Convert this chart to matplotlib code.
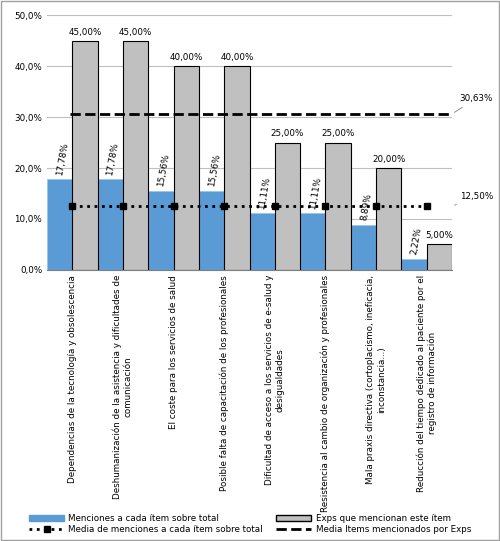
import matplotlib
matplotlib.use("Agg")
import matplotlib.pyplot as plt
import numpy as np
from matplotlib.patches import Rectangle
from matplotlib.lines import Line2D

categories = [
    "Dependencias de la tecnología y obsolescencia",
    "Deshumanización de la asistencia y dificultades de\ncomunicación",
    "El coste para los servicios de salud",
    "Posible falta de capacitación de los profesionales",
    "Dificultad de acceso a los servicios de e-salud y\ndesigualdades",
    "Resistencia al cambio de organización y profesionales",
    "Mala praxis directiva (cortoplacismo, ineficacia,\ninconstancia...)",
    "Reducción del tiempo dedicado al paciente por el\nregistro de información",
]
menciones = [17.78, 17.78, 15.56, 15.56, 11.11, 11.11, 8.89, 2.22]
exps = [45.0, 45.0, 40.0, 40.0, 25.0, 25.0, 20.0, 5.0]
media_menciones = 12.50
media_exps = 30.63

def fmt(v, d=2):
    return f"{v:.{d}f}".replace(".", ",") + "%"

plt.rcParams['font.family'] = ['DejaVu Sans']
fs = 6.3
fig = plt.figure(figsize=(5, 5.41), dpi=100)
ax = fig.add_axes([0.094, 0.501, 0.81, 0.471])
x = np.arange(len(categories))
blue = "#5B9BD5"
ax.bar(x - 0.25, menciones, width=0.5, color=blue, edgecolor="#9DC3E6", linewidth=0.6, zorder=2)
ax.bar(x + 0.25, exps, width=0.5, color="#C0C0C0", edgecolor="black", linewidth=0.8, zorder=2)
ax.plot(x, [media_menciones]*len(x), ls=":", color="black", lw=2, marker="s", ms=5, zorder=4)
ax.plot([x[0]-0.05, x[-1]+0.5], [media_exps]*2, ls="--", color="black", lw=2, zorder=4)
for xi, v in zip(x, menciones):
    ax.text(xi - 0.2, v + 0.6, fmt(v), rotation=80, ha="center", va="bottom", fontsize=fs)
for xi, v in zip(x, exps):
    ax.text(xi + 0.25, v + 0.8, fmt(v), ha="center", va="bottom", fontsize=fs)
ax.set_xlim(-0.5, 7.5)
ax.set_ylim(0, 50)
ax.set_yticks(range(0, 51, 10))
ax.set_yticklabels([fmt(t, 1) for t in range(0, 51, 10)], fontsize=fs)
ax.set_xticks(x)
ax.set_xticklabels(categories, rotation=90, fontsize=fs, va="top", ha="center")
ax.tick_params(axis="x", length=0)
ax.tick_params(axis="y", length=0)
ax.grid(axis="y", color="#BFBFBF", lw=0.8, zorder=0)
for s in ["top", "right", "left"]:
    ax.spines[s].set_visible(False)
ax.spines["bottom"].set_color("#7F7F7F")
ax.annotate(fmt(media_exps), xy=(7.5, media_exps), xytext=(7.65, media_exps + 3),
            fontsize=fs, ha="left", va="center", annotation_clip=False,
            arrowprops=dict(arrowstyle="-", color="#7F7F7F", lw=0.6))
ax.annotate(fmt(media_menciones), xy=(7.5, media_menciones), xytext=(7.65, media_menciones + 2),
            fontsize=fs, ha="left", va="center", annotation_clip=False,
            arrowprops=dict(arrowstyle="-", color="#7F7F7F", lw=0.6))

h1 = Rectangle((0, 0), 1, 1, color=blue)
h2 = Rectangle((0, 0), 1, 1, facecolor="#C0C0C0", edgecolor="black")
h3 = Line2D([], [], ls=":", color="black", lw=2, marker="s", ms=5)
h4 = Line2D([], [], ls="--", color="black", lw=2)
fig.legend([h1, h3, h2, h4],
           ["Menciones a cada ítem sobre total", "Media de menciones a cada ítem sobre total",
            "Exps que mencionan este ítem", "Media Items mencionados por Exps"],
           ncol=2, loc="lower center", bbox_to_anchor=(0.5, 0.0), fontsize=fs, frameon=False,
           handlelength=4, handletextpad=0.5, columnspacing=1.5, borderaxespad=0.4, labelspacing=0.2)
fig.patches.append(Rectangle((0.002, 0.002), 0.996, 0.996, transform=fig.transFigure,
                             fill=False, edgecolor="#A0A0A0", lw=1))
fig.savefig("out.png", dpi=100)
